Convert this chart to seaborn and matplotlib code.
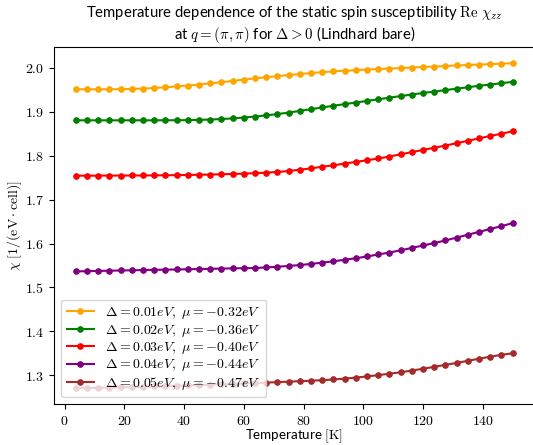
import numpy as np
import pandas as pd
import matplotlib
matplotlib.use("Agg")
import matplotlib.pyplot as plt
from matplotlib.ticker import FuncFormatter
import seaborn as sns

# Temperature grid (K)
temperature = [3.75 * k for k in range(1, 41)]

chi_d001 = [1.9510, 1.9510, 1.9510, 1.9511, 1.9513, 1.9518, 1.9526, 1.9540, 1.9556, 1.9575,
            1.9596, 1.9618, 1.9645, 1.9672, 1.9700, 1.9732, 1.9760, 1.9785, 1.9810, 1.9835,
            1.9855, 1.9880, 1.9900, 1.9918, 1.9932, 1.9946, 1.9960, 1.9972, 1.9983, 1.9993,
            2.0005, 2.0018, 2.0028, 2.0040, 2.0052, 2.0063, 2.0073, 2.0082, 2.0093, 2.0103]
chi_d002 = [1.8804, 1.8804, 1.8804, 1.8804, 1.8804, 1.8804, 1.8804, 1.8804, 1.8805, 1.8806,
            1.8808, 1.8814, 1.8822, 1.8833, 1.8848, 1.8867, 1.8890, 1.8917, 1.8946, 1.8980,
            1.9018, 1.9057, 1.9097, 1.9136, 1.9172, 1.9209, 1.9245, 1.9283, 1.9320, 1.9356,
            1.9391, 1.9425, 1.9459, 1.9492, 1.9525, 1.9556, 1.9590, 1.9619, 1.9649, 1.9680]
chi_d003 = [1.7544, 1.7544, 1.7545, 1.7546, 1.7547, 1.7548, 1.7549, 1.7551, 1.7553, 1.7556,
            1.7560, 1.7565, 1.7570, 1.7576, 1.7583, 1.7591, 1.7601, 1.7613, 1.7628, 1.7650,
            1.7680, 1.7710, 1.7748, 1.7780, 1.7820, 1.7858, 1.7895, 1.7935, 1.7980, 1.8030,
            1.8080, 1.8130, 1.8180, 1.8230, 1.8283, 1.8338, 1.8393, 1.8448, 1.8500, 1.8554]
chi_d004 = [1.5365, 1.5370, 1.5376, 1.5381, 1.5386, 1.5391, 1.5396, 1.5401, 1.5405, 1.5409,
            1.5414, 1.5419, 1.5424, 1.5429, 1.5434, 1.5438, 1.5442, 1.5456, 1.5471, 1.5490,
            1.5510, 1.5535, 1.5565, 1.5595, 1.5630, 1.5665, 1.5705, 1.5750, 1.5795, 1.5845,
            1.5900, 1.5955, 1.6010, 1.6070, 1.6135, 1.6200, 1.6265, 1.6330, 1.6395, 1.6465]
chi_d005 = [1.2710, 1.2712, 1.2716, 1.2721, 1.2727, 1.2733, 1.2740, 1.2747, 1.2754, 1.2762,
            1.2770, 1.2778, 1.2786, 1.2795, 1.2804, 1.2814, 1.2824, 1.2834, 1.2845, 1.2856,
            1.2866, 1.2877, 1.2890, 1.2905, 1.2925, 1.2948, 1.2975, 1.3005, 1.3036, 1.3070,
            1.3108, 1.3150, 1.3193, 1.3238, 1.3283, 1.3330, 1.3377, 1.3425, 1.3466, 1.3503]

labels = [r"$\Delta = 0.01 eV,\ \mu = -0.32 eV$",
          r"$\Delta = 0.02 eV,\ \mu = -0.36 eV$",
          r"$\Delta = 0.03 eV,\ \mu = -0.40 eV$",
          r"$\Delta = 0.04 eV,\ \mu = -0.44 eV$",
          r"$\Delta = 0.05 eV,\ \mu = -0.47 eV$"]
colors = ["orange", "green", "red", "purple", "brown"]
series = [chi_d001, chi_d002, chi_d003, chi_d004, chi_d005]

plt.rcParams["mathtext.fontset"] = "cm"
plt.rcParams["font.family"] = ["Lato", "DejaVu Sans"]

fig = plt.figure(figsize=(5.33, 4.45), dpi=100)
ax = fig.add_axes([54 / 533, 1 - 404.3 / 445, 480.5 / 533, 357.3 / 445])

for lab, col, vals in zip(labels, colors, series):
    df = pd.DataFrame({"T": temperature, "chi": vals})
    sns.lineplot(data=df, x="T", y="chi", ax=ax, color=col, marker="o",
                 markersize=4, markeredgecolor=col, markeredgewidth=0.75,
                 linewidth=1.5, label=lab)

ax.set_xticks([0, 20, 40, 60, 80, 100, 120, 140])
ax.set_yticks([1.3, 1.4, 1.5, 1.6, 1.7, 1.8, 1.9, 2.0])
ax.xaxis.set_major_formatter(FuncFormatter(lambda v, p: f"${v:.0f}$"))
ax.yaxis.set_major_formatter(FuncFormatter(lambda v, p: f"${v:.1f}$"))
ax.set_xlabel(r"Temperature $[\mathrm{K}]$", fontsize=9.6)
ax.xaxis.set_label_coords(0.5, -0.064)
ax.set_ylabel(r"$\chi\ [1/(\mathrm{eV}\cdot\mathrm{cell})]$")
ax.yaxis.set_label_coords(-0.062, 0.5)
ax.set_title("Temperature dependence of the static spin susceptibility $\\mathrm{Re}\\ \\chi_{zz}$\n"
             "at $q=(\\pi,\\pi)$ for $\\Delta>0$ (Lindhard bare)", pad=6, linespacing=1.1,
             fontsize=10.7)
ax.legend(loc="lower left", labelspacing=0.1)

fig.savefig("out.png", dpi=100)
